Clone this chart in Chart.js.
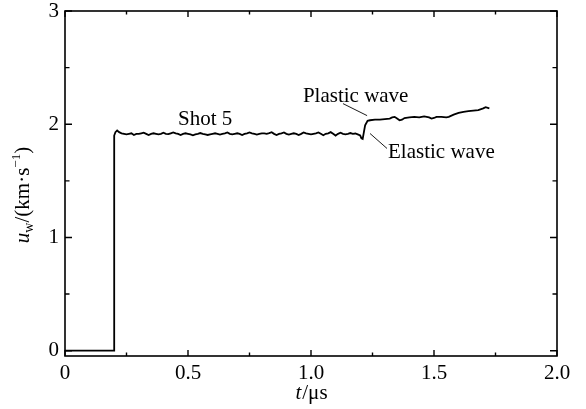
<!DOCTYPE html>
<html>
<head>
<meta charset="utf-8">
<title>Shot 5 particle velocity</title>
<script src="https://cdn.jsdelivr.net/npm/chart.js@4.4.1/dist/chart.umd.min.js"></script>
<style>
  body { margin: 0; background: #fff; }
  canvas { display: block; }
</style>
</head>
<body>
<canvas id="velocityChart" width="586" height="409"></canvas>
<script>
// data (t in us, u_w in km/s)
var times = [
    0, 0.2, 0.2, 0.205, 0.212, 0.22, 0.23, 0.24, 0.25, 0.26, 0.27, 0.28, 0.29, 0.30,
    0.31, 0.32, 0.33, 0.34, 0.35, 0.36, 0.37, 0.38, 0.39, 0.40,
    0.41, 0.42, 0.43, 0.44, 0.45, 0.46, 0.47, 0.48, 0.49, 0.50,
    0.51, 0.52, 0.53, 0.54, 0.55, 0.56, 0.57, 0.58, 0.59, 0.60,
    0.61, 0.62, 0.63, 0.64, 0.65, 0.66, 0.67, 0.68, 0.69, 0.70,
    0.71, 0.72, 0.73, 0.74, 0.75, 0.76, 0.77, 0.78, 0.79, 0.80,
    0.81, 0.82, 0.83, 0.84, 0.85, 0.86, 0.87, 0.88, 0.89, 0.90,
    0.91, 0.92, 0.93, 0.94, 0.95, 0.96, 0.97, 0.98, 0.99, 1.00,
    1.01, 1.02, 1.03, 1.04, 1.05, 1.06, 1.07, 1.08, 1.09, 1.10,
    1.11, 1.12, 1.13, 1.14, 1.15, 1.16, 1.17, 1.18, 1.19, 1.20,
    1.205, 1.21, 1.215, 1.22, 1.23, 1.24, 1.26, 1.28, 1.30, 1.32,
    1.33, 1.34, 1.35, 1.36, 1.37, 1.38, 1.40, 1.42, 1.44, 1.45,
    1.46, 1.47, 1.48, 1.49, 1.50, 1.51, 1.53, 1.55, 1.56, 1.58,
    1.60, 1.62, 1.64, 1.66, 1.68, 1.70, 1.71, 1.725
];
var velocities = [
    0, 0, 1.90, 1.93, 1.945, 1.93, 1.92, 1.915, 1.91, 1.915, 1.92, 1.905, 1.915, 1.915,
    1.92, 1.925, 1.915, 1.905, 1.915, 1.92, 1.915, 1.91, 1.915, 1.925,
    1.915, 1.912, 1.92, 1.928, 1.92, 1.915, 1.905, 1.915, 1.92, 1.915,
    1.91, 1.902, 1.91, 1.915, 1.922, 1.915, 1.91, 1.905, 1.91, 1.915,
    1.92, 1.915, 1.908, 1.915, 1.92, 1.928, 1.915, 1.91, 1.915, 1.92,
    1.915, 1.905, 1.915, 1.92, 1.928, 1.92, 1.915, 1.908, 1.915, 1.92,
    1.92, 1.915, 1.922, 1.93, 1.915, 1.905, 1.915, 1.92, 1.928, 1.915,
    1.908, 1.915, 1.92, 1.915, 1.905, 1.915, 1.928, 1.92, 1.915, 1.91,
    1.915, 1.92, 1.928, 1.915, 1.902, 1.915, 1.92, 1.93, 1.915, 1.9,
    1.915, 1.925, 1.915, 1.91, 1.915, 1.922, 1.915, 1.918, 1.91, 1.90,
    1.875, 1.87, 1.93, 1.99, 2.03, 2.035, 2.04, 2.04, 2.045, 2.05,
    2.06, 2.065, 2.05, 2.035, 2.04, 2.055, 2.06, 2.065, 2.06, 2.065,
    2.07, 2.065, 2.06, 2.05, 2.055, 2.065, 2.065, 2.06, 2.065, 2.085,
    2.10, 2.11, 2.115, 2.12, 2.125, 2.14, 2.15, 2.14
];

// axis ticks
var xTicks = [0, 0.25, 0.5, 0.75, 1, 1.25, 1.5, 1.75, 2];
var xMajor = [0, 0.5, 1, 1.5, 2];
var xLabels = ['0', '0.5', '1.0', '1.5', '2.0'];
var yTicks = [0, 0.5, 1, 1.5, 2, 2.5, 3];
var yMajor = [0, 1, 2, 3];
var yLabels = ['0', '1', '2', '3'];

var serif = '"Liberation Serif", "DejaVu Serif", serif';

// draws the frame, inward ticks, axis titles and the notes
var framePlugin = {
    id: 'frame',
    afterDraw: function (chart) {
        var ctx = chart.ctx;
        var a = chart.chartArea;
        var xs = chart.scales.x, ys = chart.scales.y;
        ctx.save();
        ctx.strokeStyle = '#000';
        ctx.lineWidth = 1.6;
        ctx.strokeRect(a.left, a.top, a.right - a.left, a.bottom - a.top);

        ctx.lineWidth = 1.4;
        ctx.beginPath();
        xTicks.forEach(function (v) {
            var len = xMajor.indexOf(v) >= 0 ? 6 : 3.5;
            var px = xs.getPixelForValue(v);
            ctx.moveTo(px, a.bottom); ctx.lineTo(px, a.bottom - len);
            ctx.moveTo(px, a.top); ctx.lineTo(px, a.top + len);
        });
        yTicks.forEach(function (v) {
            var len = yMajor.indexOf(v) >= 0 ? 7 : 4.5;
            var py = ys.getPixelForValue(v);
            ctx.moveTo(a.left, py); ctx.lineTo(a.left + len, py);
            ctx.moveTo(a.right, py); ctx.lineTo(a.right - len, py);
        });
        ctx.stroke();

        ctx.fillStyle = '#000';
        ctx.textBaseline = 'alphabetic';

        // x title: t/us
        var xt = 'italic 21px ' + serif, xr = '21px ' + serif;
        ctx.font = xt;
        var w1 = ctx.measureText('t').width;
        ctx.font = xr;
        var w2 = ctx.measureText('/\u03bcs').width;
        var cx = (a.left + a.right) / 2 - (w1 + w2) / 2;
        ctx.font = xt; ctx.fillText('t', cx, 399);
        ctx.font = xr; ctx.fillText('/\u03bcs', cx + w1 + 1, 399);

        // y title: u_w/(km.s^-1), rotated
        ctx.save();
        ctx.translate(29, 195);
        ctx.rotate(-Math.PI / 2);
        var parts = [
            { t: 'u', f: 'italic 21px ' + serif, dy: 0 },
            { t: 'w', f: '14px ' + serif, dy: 4 },
            { t: '/(km\u00b7s', f: '21px ' + serif, dy: 0 },
            { t: '\u22121', f: '13px ' + serif, dy: -9 },
            { t: ')', f: '21px ' + serif, dy: 0 }
        ];
        var total = 0;
        parts.forEach(function (p) { ctx.font = p.f; p.w = ctx.measureText(p.t).width; total += p.w; });
        var px0 = -total / 2;
        parts.forEach(function (p) { ctx.font = p.f; ctx.fillText(p.t, px0, p.dy); px0 += p.w; });
        ctx.restore();

        // notes
        ctx.font = '21px ' + serif;
        ctx.textAlign = 'center';
        ctx.fillText('Shot 5', xs.getPixelForValue(0.57), ys.getPixelForValue(1.99));
        ctx.textAlign = 'left';
        ctx.fillText('Plastic wave', xs.getPixelForValue(0.967), ys.getPixelForValue(2.194));
        ctx.fillText('Elastic wave', xs.getPixelForValue(1.313), ys.getPixelForValue(1.704));

        ctx.lineWidth = 0.9;
        ctx.beginPath();
        ctx.moveTo(xs.getPixelForValue(1.13), ys.getPixelForValue(2.182));
        ctx.lineTo(xs.getPixelForValue(1.228), ys.getPixelForValue(2.076));
        ctx.moveTo(xs.getPixelForValue(1.24), ys.getPixelForValue(1.918));
        ctx.lineTo(xs.getPixelForValue(1.309), ys.getPixelForValue(1.786));
        ctx.stroke();
        ctx.restore();
    }
};

var points = times.map(function (t, i) { return { x: t, y: velocities[i] }; });

new Chart(document.getElementById('velocityChart').getContext('2d'), {
    type: 'line',
    data: {
        datasets: [{
            data: points,
            borderColor: '#000',
            borderWidth: 1.8,
            pointRadius: 0,
            tension: 0,
            fill: false
        }]
    },
    options: {
        responsive: false,
        animation: false,
        devicePixelRatio: 1,
        layout: { padding: { left: 0, right: 29, top: 11, bottom: 0 } },
        plugins: { legend: { display: false }, tooltip: { enabled: false } },
        scales: {
            x: {
                type: 'linear',
                min: 0,
                max: 2,
                afterBuildTicks: function (s) { s.ticks = xTicks.map(function (v) { return { value: v }; }); },
                afterFit: function (s) { s.height = 53; s.paddingLeft = 0; s.paddingRight = 0; },
                grid: { display: false, drawTicks: false },
                border: { display: false },
                ticks: {
                    autoSkip: false,
                    maxRotation: 0,
                    padding: 5,
                    color: '#000',
                    font: { family: serif, size: 21 },
                    callback: function (v) {
                        var i = xMajor.indexOf(v);
                        return i >= 0 ? xLabels[i] : '';
                    }
                }
            },
            y: {
                type: 'linear',
                min: -0.047,
                max: 3,
                afterBuildTicks: function (s) { s.ticks = yTicks.map(function (v) { return { value: v }; }); },
                afterFit: function (s) { s.width = 65; s.paddingTop = 0; s.paddingBottom = 0; },
                grid: { display: false, drawTicks: false },
                border: { display: false },
                ticks: {
                    autoSkip: false,
                    padding: 6,
                    color: '#000',
                    font: { family: serif, size: 21 },
                    callback: function (v) {
                        var i = yMajor.indexOf(v);
                        return i >= 0 ? yLabels[i] : '';
                    }
                }
            }
        }
    },
    plugins: [framePlugin]
});
</script>
</body>
</html>
